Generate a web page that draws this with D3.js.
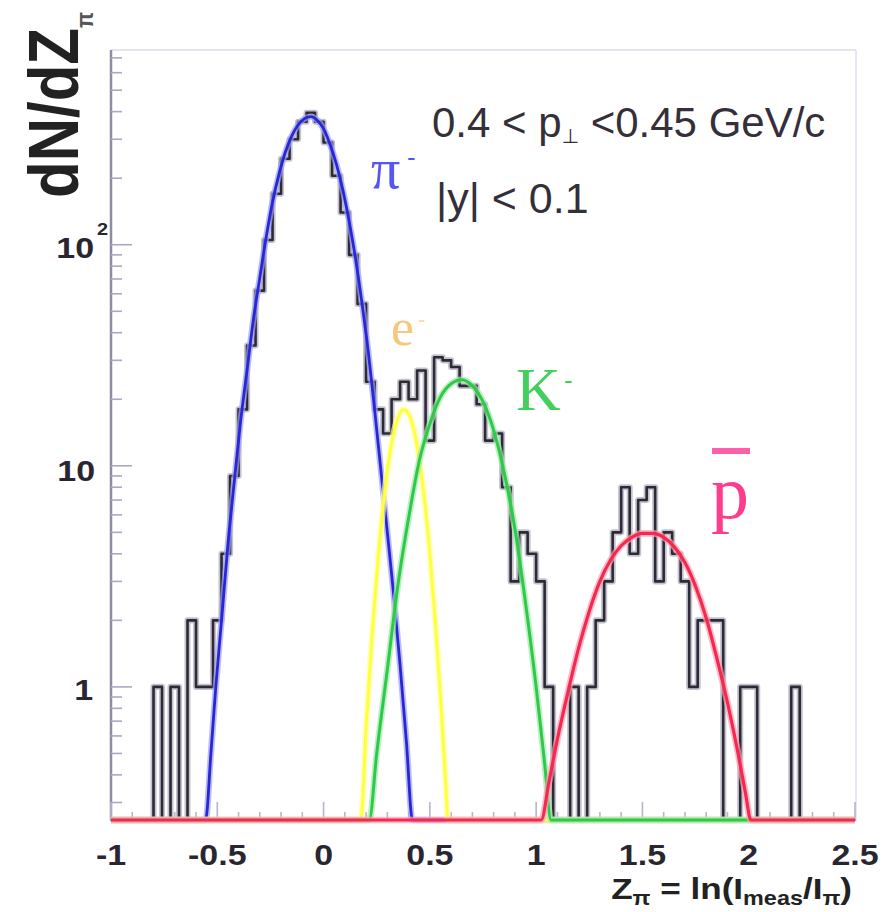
<!DOCTYPE html>
<html>
<head>
<meta charset="utf-8">
<script src="https://d3js.org/d3.v7.min.js"></script>
<style>
  body { margin: 0; background: white; }
</style>
</head>
<body>
<svg id="chart" width="895" height="912"></svg>
<script>
// dE/dx histogram, Z_pi in bins of 0.04 starting at -1
var histLow = -1;
var histBinWidth = 0.04;
var histCounts = [
  0, 0, 0, 0, 0,
  1, 0, 1, 0, 2,
  1, 1, 2, 4, 9,
  18, 35, 62, 105, 170,
  245, 300, 360, 395, 360,
  290, 205, 140, 90, 54,
  24, 18, 14, 20, 24,
  20, 27, 13, 31, 30,
  28, 23, 23, 19, 13,
  14, 8, 3, 5, 4,
  3, 1, 0, 0, 1,
  0, 1, 2, 3, 5,
  8, 4, 7, 8, 3,
  5, 4, 3, 1, 2,
  2, 2, 0, 0, 1,
  1, 0, 0, 0, 0,
  1, 0, 0, 0, 0,
  0, 0, 0
];

// fit curves, [Z, dN/dZ] (0.25 = bottom of the frame)
var pionCurve = [[-1, 0.25], [-0.555, 0.25], [-0.53, 0.5], [-0.507, 1.0], [-0.48, 2.0], [-0.45, 4.4],
  [-0.42, 8.5], [-0.39, 16], [-0.36, 27], [-0.33, 46], [-0.30, 71], [-0.27, 108], [-0.24, 156],
  [-0.21, 208], [-0.18, 262], [-0.15, 310], [-0.12, 348], [-0.09, 372], [-0.06, 380], [-0.03, 366],
  [0.00, 335], [0.03, 285], [0.06, 232], [0.09, 178], [0.12, 128], [0.15, 87], [0.18, 55], [0.21, 33],
  [0.24, 18], [0.27, 9.5], [0.30, 5.0], [0.33, 2.6], [0.36, 1.25], [0.39, 0.56], [0.418, 0.25], [2.5, 0.25]];

var electronCurve = [[-1, 0.25], [0.175, 0.25], [0.20, 0.65], [0.225, 1.55], [0.25, 3.2], [0.275, 5.9],
  [0.30, 9.5], [0.325, 13.3], [0.35, 16.5], [0.375, 18], [0.40, 17.2], [0.425, 14.5], [0.45, 10.7],
  [0.475, 7.0], [0.50, 4.0], [0.525, 2.0], [0.55, 0.9], [0.575, 0.36], [0.585, 0.25], [2.5, 0.25]];

var kaonCurve = [[-1, 0.25], [0.215, 0.25], [0.25, 0.5], [0.30, 1.2], [0.35, 2.9], [0.40, 5.8],
  [0.45, 10.5], [0.50, 15.5], [0.55, 20.5], [0.60, 23.5], [0.65, 24.5], [0.70, 23], [0.75, 19.5],
  [0.80, 14.5], [0.85, 9.3], [0.90, 5.2], [0.95, 2.4], [1.00, 1.0], [1.04, 0.45], [1.07, 0.25], [2.5, 0.25]];

var antiprotonCurve = [[-1, 0.25], [1.024, 0.25], [1.06, 0.37], [1.10, 0.58], [1.15, 0.95], [1.20, 1.5],
  [1.25, 2.2], [1.30, 3.0], [1.35, 3.75], [1.40, 4.35], [1.45, 4.75], [1.50, 4.95], [1.55, 4.95],
  [1.60, 4.75], [1.65, 4.3], [1.70, 3.65], [1.75, 2.85], [1.80, 2.05], [1.85, 1.35], [1.90, 0.85],
  [1.95, 0.5], [1.985, 0.33], [2.01, 0.25], [2.5, 0.25]];

var xTickValues = [-1, -0.5, 0, 0.5, 1, 1.5, 2, 2.5];
var xTickLabels = ["-1", "-0.5", "0", "0.5", "1", "1.5", "2", "2.5"];
var yTickValues = [1, 10, 100];

var svg = d3.select("#chart");
var stretch = 1.17;   // the root labels look a bit wide
var font = "'Liberation Sans', Arial, Helvetica, sans-serif";
var serif = "'Liberation Serif', 'Times New Roman', serif";

let x = d3.scaleLinear().domain([-1, 2.5]).range([111, 855]);
let y = d3.scaleLog().domain([0.25, 760]).range([820, 50]);
let ymin = y.domain()[0];

svg.append("rect").attr("width", 895).attr("height", 912).attr("fill", "white");

// frame
svg.append("line").attr("x1", 111).attr("x2", 856).attr("y1", 50).attr("y2", 50)
  .attr("stroke", "#e3e3f3").attr("stroke-width", 2);
svg.append("line").attr("x1", 856).attr("x2", 856).attr("y1", 50).attr("y2", 820)
  .attr("stroke", "#e6e6f6").attr("stroke-width", 2);
svg.append("line").attr("x1", 111).attr("x2", 856).attr("y1", 820).attr("y2", 820)
  .attr("stroke", "#8e8ba4").attr("stroke-width", 2);
svg.append("line").attr("x1", 111).attr("x2", 111).attr("y1", 50).attr("y2", 821)
  .attr("stroke", "#8e8ba4").attr("stroke-width", 2.5);

// y ticks (log), major at decades
y.ticks().forEach(function(t) {
  let major = yTickValues.indexOf(t) >= 0;
  svg.append("line")
    .attr("x1", 111).attr("x2", 111 + (major ? 21 : 11))
    .attr("y1", y(t)).attr("y2", y(t))
    .attr("stroke", "#aba8c4").attr("stroke-width", 1.6);
});

// x ticks every 0.1, major every 0.5
x.ticks(35).forEach(function(t) {
  let major = Math.abs(t * 2 - Math.round(t * 2)) < 1e-6;
  svg.append("line")
    .attr("x1", x(t)).attr("x2", x(t))
    .attr("y1", 820).attr("y2", 820 - (major ? 18 : 8))
    .attr("stroke", "#b6b4cf").attr("stroke-width", 1.6);
});

function label(px, py, str, size, opts) {
  opts = opts || {};
  let t = svg.append("text")
    .attr("transform", "translate(" + px + "," + py + ") scale(" + (opts.sx || 1) + ",1)" + (opts.rot ? " rotate(" + opts.rot + ")" : ""))
    .attr("font-family", opts.family || font)
    .attr("font-size", size)
    .attr("font-weight", opts.weight || "normal")
    .attr("text-anchor", opts.anchor || "start")
    .attr("fill", opts.fill || "#2a2630");
  if (str !== null) t.text(str);
  return t;
}

// x tick labels
xTickValues.forEach(function(v, i) {
  label(x(v), 865, xTickLabels[i], 29, {sx: stretch, weight: "bold", anchor: "middle"});
});

// y tick labels
label(93, y(1) + 13, "1", 29, {sx: stretch, weight: "bold", anchor: "end"});
label(95, y(10) + 15, "10", 29, {sx: stretch, weight: "bold", anchor: "end"});
label(94, y(100) + 13, "10", 29, {sx: stretch, weight: "bold", anchor: "end"});
label(97, y(100) - 10, "2", 17, {sx: stretch, weight: "bold"});

// axis titles
let ytitle = label(78, 12, null, 60, {sx: stretch, weight: "bold", anchor: "end", rot: -90, fill: "#222"});
ytitle.append("tspan").text("dN/dZ");
ytitle.append("tspan").attr("font-size", 21).attr("dy", 13).attr("fill", "#555").text("π");

let xtitle = label(852, 899, null, 30, {sx: stretch, weight: "bold", anchor: "end", fill: "#222"});
xtitle.append("tspan").text("Z");
xtitle.append("tspan").attr("font-size", 20).attr("dy", 6).text("π");
xtitle.append("tspan").attr("dy", -6).text(" = ln(I");
xtitle.append("tspan").attr("font-size", 20).attr("dy", 6).text("meas");
xtitle.append("tspan").attr("dy", -6).text("/I");
xtitle.append("tspan").attr("font-size", 20).attr("dy", 6).text("π");
xtitle.append("tspan").attr("dy", -6).text(")");

// plot contents, clipped left/right only
svg.append("clipPath").attr("id", "plotclip")
  .append("rect").attr("x", 111).attr("y", 40).attr("width", 744).attr("height", 790);
let plot = svg.append("g").attr("clip-path", "url(#plotclip)");

let histPoints = histCounts.map(function(c, i) { return [histLow + i * histBinWidth, c]; });
histPoints.push([histLow + histCounts.length * histBinWidth, histCounts[histCounts.length - 1]]);

let stepLine = d3.line()
  .x(d => x(d[0]))
  .y(d => y(Math.max(d[1], ymin)))
  .curve(d3.curveStepAfter);

let fitLine = d3.line()
  .x(d => x(d[0]))
  .y(d => y(Math.max(d[1], ymin)))
  .curve(d3.curveMonotoneX);

function drawPath(gen, data, core, halo, w) {
  plot.append("path").attr("d", gen(data)).attr("fill", "none")
    .attr("stroke", halo).attr("stroke-width", w + 3.5).attr("stroke-opacity", 0.7)
    .attr("stroke-linejoin", "round");
  plot.append("path").attr("d", gen(data)).attr("fill", "none")
    .attr("stroke", core).attr("stroke-width", w)
    .attr("stroke-linejoin", "round");
}

drawPath(stepLine, histPoints, "#2d2a33", "#aaa8bc", 2.6);
drawPath(fitLine, pionCurve, "#2727d8", "#a0a0f2", 2.8);
drawPath(fitLine, electronCurve, "#ffff3a", "#ffffaa", 3);
drawPath(fitLine, kaonCurve, "#2fc94a", "#9fe9a8", 3);
drawPath(fitLine, antiprotonCurve, "#f5284f", "#ff9fb3", 3.2);

// annotations
let ann1 = label(432, 137, null, 42, {fill: "#34303a"});
ann1.append("tspan").text("0.4 < p");
ann1.append("tspan").attr("font-size", 20).attr("dy", 6).attr("font-family", "'DejaVu Sans', sans-serif").text("⊥");
ann1.append("tspan").attr("dy", -6).text(" <0.45 GeV/c");
label(436, 213, "|y| < 0.1", 43, {fill: "#34303a"});

// particle labels
label(371, 188, "π", 58, {family: serif, fill: "#5656f2"});
label(407, 166, "-", 26, {family: font, fill: "#5656f2"});
label(391, 345, "e", 52, {family: serif, fill: "#f7c87c"});
label(418, 327, "-", 22, {family: font, fill: "#f9d9a4"});
label(516, 410, "K", 62, {family: serif, fill: "#42cf5c"});
label(564, 389, "-", 26, {family: font, fill: "#42cf5c"});
label(711, 518, "p", 76, {family: serif, fill: "#ff3d8d"});
svg.append("rect").attr("x", 712).attr("y", 448).attr("width", 38).attr("height", 6).attr("fill", "#ff5fa8");
</script>
</body>
</html>
